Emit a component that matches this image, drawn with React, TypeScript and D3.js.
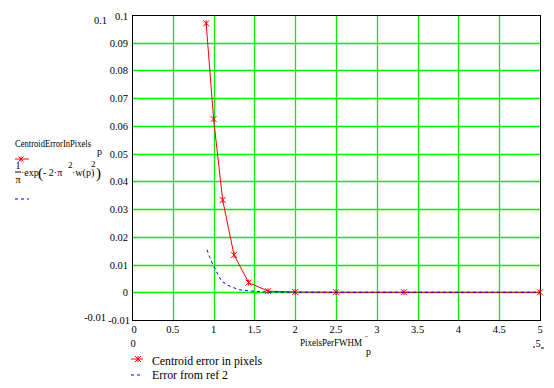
import React from 'react';
import * as d3 from 'd3';

// pixels per FWHM for each sample and the measured centroid error
const pixelsPerFwhm = [0.909, 1, 1.111, 1.25, 1.429, 1.667, 2, 2.5, 3.333, 5];
const centroidError = [0.097, 0.0625, 0.0333, 0.0135, 0.0035, 0.0004, 0.0001, 0, 0, 0];

// curve "Error from ref 2"
const refX = [0.92, 0.95, 0.98, 1.02, 1.05, 1.1, 1.17, 1.24, 1.32, 1.44, 1.57, 1.7, 2, 2.5, 3, 4, 5];
const refY = [0.0153, 0.0128, 0.0107, 0.0085, 0.0065, 0.004, 0.0026, 0.0017, 0.0009, 0.0005, 0.0002, 0.0001, 0, 0, 0, 0, 0];

const xTicks = [0, 0.5, 1, 1.5, 2, 2.5, 3, 3.5, 4, 4.5, 5];
const xTickLabels = ['0', '0.5', '1', '1.5', '2', '2.5', '3', '3.5', '4', '4.5', '5'];
const yTicks = [0.1, 0.09, 0.08, 0.07, 0.06, 0.05, 0.04, 0.03, 0.02, 0.01, 0, -0.01];
const yTickLabels = ['0.1', '0.09', '0.08', '0.07', '0.06', '0.05', '0.04', '0.03', '0.02', '0.01', '0', '-0.01'];

const W = 554;
const H = 388;
const FONT = "'Liberation Serif', 'Times New Roman', Times, serif";
const GREEN = '#00f000';

const Marker: React.FC<{ x: number; y: number; s?: number }> = ({ x, y, s = 3 }) => (
  <g stroke="#ff0000" strokeWidth={1}>
    <line x1={x - s} y1={y - s} x2={x + s} y2={y + s} />
    <line x1={x - s} y1={y + s} x2={x + s} y2={y - s} />
    <line x1={x} y1={y - s} x2={x} y2={y + s} />
  </g>
);

export default function App() {
  const x = d3.scaleLinear().domain([0, 5]).range([132, 540]);
  const y = d3.scaleLinear().domain([-0.01, 0.1]).range([320, 15]);

  const redPts: [number, number][] = pixelsPerFwhm.map((v, i) => [v, centroidError[i]]);
  const bluePts: [number, number][] = refX.map((v, i) => [v, refY[i]]);
  const line = d3.line<[number, number]>().x(d => x(d[0])).y(d => y(d[1]));

  const [x0, x1] = x.range();
  const [yb, yt] = y.range();
  const px = (v: number) => Math.round(v) + 0.5;

  return (
    <svg width={W} height={H} style={{ position: 'absolute', left: 0, top: 0, background: '#fff', fontFamily: FONT }}
      fontSize={10.5}>
      <rect width={W} height={H} fill="#fff" />

      {/* grid */}
      {xTicks.slice(1, -1).map(t => (
        <line key={'gx' + t} x1={px(x(t))} x2={px(x(t))} y1={yt} y2={yb} stroke={GREEN} strokeWidth={1.3} />
      ))}
      {yTicks.slice(1, -1).map(t => (
        <line key={'gy' + t} x1={x0} x2={x1} y1={px(y(t))} y2={px(y(t))} stroke={GREEN} strokeWidth={1.3} />
      ))}

      {/* frame */}
      <rect x={x0 + 0.5} y={yt + 0.5} width={x1 - x0} height={yb - yt} fill="none" stroke="#000" strokeWidth={1} />

      {/* series */}
      <path d={line(redPts) || ''} fill="none" stroke="#ff0000" strokeWidth={1} />
      {redPts.map((d, i) => <Marker key={'m' + i} x={x(d[0])} y={y(d[1])} />)}
      <path d={line(bluePts) || ''} fill="none" stroke="#0000ff" strokeWidth={1} strokeDasharray="3,3" />

      {/* y tick labels */}
      {yTicks.map((t, i) => {
        if (i === 0) return <text key="yl0" x={128} y={20} textAnchor="end">{yTickLabels[i]}</text>;
        if (i === yTicks.length - 1) return <text key="ylm" x={130} y={324} textAnchor="end">{yTickLabels[i]}</text>;
        return <text key={'yl' + t} x={128} y={y(t) + 4} textAnchor="end">{yTickLabels[i]}</text>;
      })}
      <text x={107} y={24} textAnchor="end">0.1</text>
      <text x={106} y={321} textAnchor="end">-0.01</text>

      {/* x tick labels */}
      {xTicks.map((t, i) => (
        <text key={'xl' + t} x={i === 0 ? x(t) + 2 : x(t)} y={333} textAnchor="middle">{xTickLabels[i]}</text>
      ))}
      <text x={133} y={347} textAnchor="middle">0</text>
      <text x={538} y={347} textAnchor="middle">5</text>
      <line x1={533} x2={535} y1={347} y2={347} stroke="#000" />
      <line x1={541} x2={544} y1={348} y2={348} stroke="#000" />

      {/* x axis title */}
      <text x={300} y={346}>
        <tspan textLength={62} lengthAdjust="spacingAndGlyphs">PixelsPerFWHM</tspan>
        <tspan x={365} y={340} fontSize={7}>"</tspan>
        <tspan x={366} y={355} fontSize={10}>p</tspan>
      </text>

      {/* y axis title block */}
      <text x={15} y={147}>
        <tspan textLength={76} lengthAdjust="spacingAndGlyphs">CentroidErrorInPixels</tspan>
        <tspan x={97} y={155} fontSize={10}>p</tspan>
      </text>
      <line x1={15} x2={29} y1={159} y2={159} stroke="#ff0000" />
      <Marker x={21} y={159} s={2.5} />
      <text x={18} y={169} fontSize={10} textAnchor="middle">1</text>
      <line x1={15} x2={21} y1={172} y2={172} stroke="#000" />
      <text x={18} y={183} fontSize={10} textAnchor="middle">π</text>
      <text x={21} y={176} fontSize={10}>
        <tspan>·exp</tspan>
        <tspan x={38} y={178} fontSize={15}>(</tspan>
        <tspan x={43} y={176}>- 2·π</tspan>
        <tspan x={68} y={168} fontSize={9}>2</tspan>
        <tspan x={72} y={176}>·w(p)</tspan>
        <tspan x={91} y={167} fontSize={9}>2</tspan>
        <tspan x={96} y={178} fontSize={15}>)</tspan>
      </text>
      <line x1={15} x2={29} y1={199} y2={199} stroke="#0000ff" strokeDasharray="3,3" />

      {/* legend */}
      <line x1={131} x2={143} y1={359} y2={359} stroke="#ff0000" />
      <Marker x={138} y={359} />
      <text x={152} y={365} fontSize={13} textLength={110} lengthAdjust="spacingAndGlyphs">Centroid error in pixels</text>
      <line x1={131} x2={143} y1={375} y2={375} stroke="#0000ff" strokeDasharray="3,3" />
      <text x={152} y={379} fontSize={13} textLength={76} lengthAdjust="spacingAndGlyphs">Error from ref 2</text>
    </svg>
  );
}
